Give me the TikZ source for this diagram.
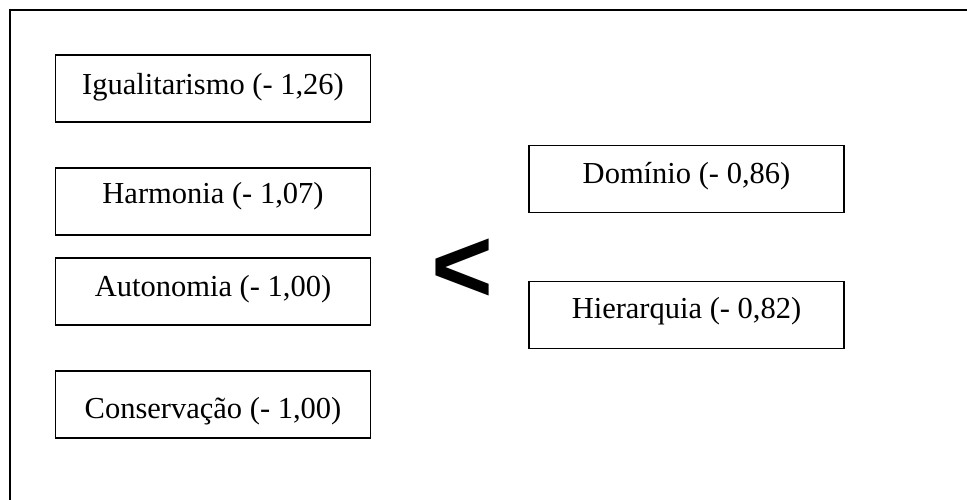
\documentclass[tikz,border=0pt]{standalone}
\usepackage{fontspec}
\setmainfont{Liberation Serif}
\newfontfamily\signfont{Liberation Sans}
\begin{document}
\begin{tikzpicture}[x=1pt,y=-1pt,
  box/.style={draw, line width=1.4pt, rectangle, inner sep=0pt,
              minimum width=315pt, minimum height=67pt},
  lbl/.style={anchor=base, inner sep=0pt, font=\fontsize{30.5pt}{36pt}\selectfont},
  frameline/.style={line width=2.6pt}]
\useasboundingbox (0,0) rectangle (967,500);

% open frame: top and left edges only
\coordinate (fl) at (10,500);
\coordinate (fc) at (10,10);
\coordinate (fr) at (967,10);
\draw[frameline] (fl) -- (fc) -- (fr);

% left column
\node[box] (igu) at (213,88.5) {};
\node[lbl] (iguT) at (213,95) {Igualitarismo (- 1,26)};
\node[box] (har) at (213,201.5) {};
\node[lbl] (harT) at (213,204) {Harmonia (- 1,07)};
\node[box] (aut) at (213,291.5) {};
\node[lbl] (autT) at (213,296) {Autonomia (- 1,00)};
\node[box] (con) at (213,404.5) {};
\node[lbl] (conT) at (213,418) {Conservação (- 1,00)};

% right column
\node[box] (dom) at (686.5,179) {};
\node[lbl] (domT) at (686.5,184) {Domínio (- 0,86)};
\node[box] (hie) at (686.5,315) {};
\node[lbl] (hieT) at (686.5,318) {Hierarquia (- 0,82)};

% comparison sign
\node[anchor=base, inner sep=0pt, font=\signfont\bfseries\fontsize{106pt}{112pt}\selectfont] (lt) at (462,302) {<};
\end{tikzpicture}
\end{document}
